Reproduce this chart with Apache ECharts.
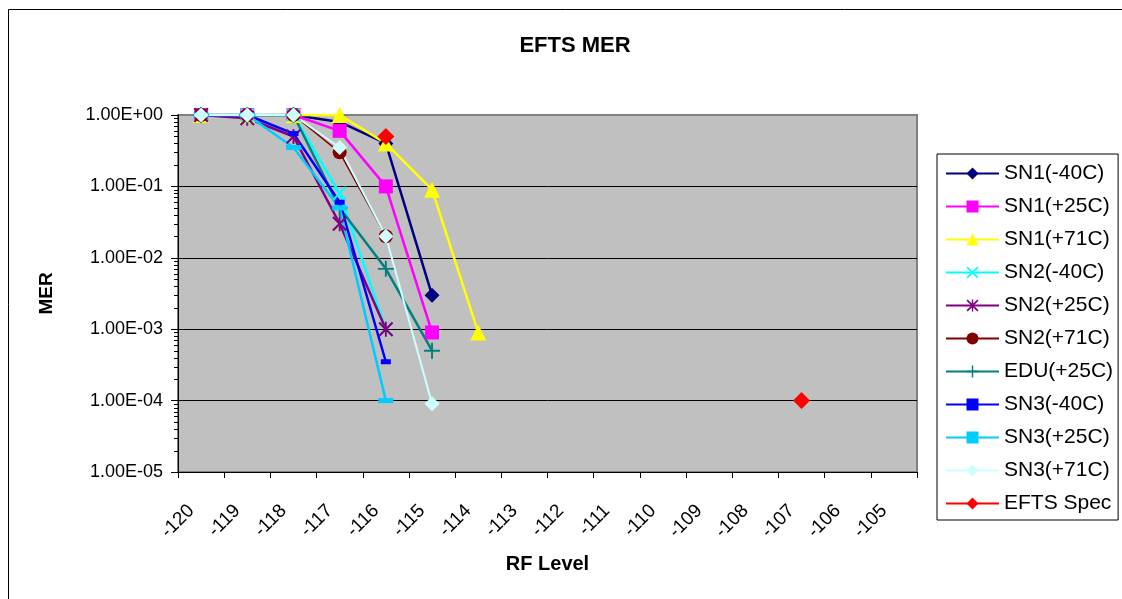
<!DOCTYPE html>
<html>
<head>
<meta charset="utf-8">
<title>EFTS MER</title>
<script src="https://cdn.jsdelivr.net/npm/echarts@6/dist/echarts.min.js"></script>
<style>
  html, body { margin: 0; padding: 0; background: #fff; }
  #chart-container { width: 1122px; height: 599px; }
</style>
</head>
<body>
<div id="chart-container"></div>
<script>
// RF level categories (x axis)
const categories = ['-120', '-119', '-118', '-117', '-116', '-115', '-114', '-113',
  '-112', '-111', '-110', '-109', '-108', '-107', '-106', '-105'];

// MER values, one array per unit / temperature
const sn1m40 = [1, 1, 1, 0.8, 0.4, 0.003];
const sn1p25 = [1, 1, 1, 0.6, 0.1, 0.0009];
const sn1p71 = [1, 1, 1, 1, 0.4, 0.09, 0.0009];
const sn2m40 = [1, 1, 1, 0.08, 0.001];
const sn2p25 = [1, 0.9, 0.5, 0.03, 0.001];
const sn2p71 = [1, 1, 1, 0.3, 0.02];
const edu25 = [1, 1, 1, 0.05, 0.007, 0.0005];
const sn3m40 = [1, 1, 0.55, 0.06, 0.00035];
const sn3p25 = [1, 1, 0.35, 0.05, 0.0001];
const sn3p71 = [1, 1, 1, 0.35, 0.02, 0.00009];
const eftsSpec = [null, null, null, null, 0.5, null, null, null, null, null, null, null, null, 0.0001];

// y tick labels, 1e-5 .. 1e0
const yTickLabels = ['1.00E-05', '1.00E-04', '1.00E-03', '1.00E-02', '1.00E-01', '1.00E+00'];

const FONT = 'Liberation Sans, Arial, sans-serif';
const gridLeft = 178, gridTop = 115, gridW = 739, gridH = 357;
const decades = 5;

// marker shapes
const xMark = 'path://M0,1L1,0L5,4L9,0L10,1L6,5L10,9L9,10L5,6L1,10L0,9L4,5Z';
const starMark = 'path://M0,1L1,0L5,4L9,0L10,1L6,5L10,9L9,10L5,6L1,10L0,9L4,5Z M4.4,0H5.6V10H4.4Z';
const plusMark = 'path://M4.4,0H5.6V4.4H10V5.6H5.6V10H4.4V5.6H0V4.4H4.4Z';

function mkSeries(name, data, color, symbol, size, width) {
  return {
    name: name,
    type: 'line',
    data: data,
    symbol: symbol,
    symbolSize: size,
    showAllSymbol: true,
    connectNulls: false,
    lineStyle: { color: color, width: width || 2.5 },
    itemStyle: { color: color },
    emphasis: { disabled: true }
  };
}

const seriesList = [
  mkSeries('SN1(-40C)', sn1m40, '#000080', 'diamond', 15),
  mkSeries('SN1(+25C)', sn1p25, '#FF00FF', 'rect', 14),
  mkSeries('SN1(+71C)', sn1p71, '#FFFF00', 'triangle', 16),
  mkSeries('SN2(-40C)', sn2m40, '#00FFFF', xMark, 14),
  mkSeries('SN2(+25C)', sn2p25, '#800080', starMark, 15),
  mkSeries('SN2(+71C)', sn2p71, '#800000', 'circle', 14, 1.5),
  mkSeries('EDU(+25C)', edu25, '#008080', plusMark, 16),
  mkSeries('SN3(-40C)', sn3m40, '#0000FF', 'rect', [10, 5]),
  mkSeries('SN3(+25C)', sn3p25, '#00CCFF', 'rect', [15, 5]),
  mkSeries('SN3(+71C)', sn3p71, '#CCFFFF', 'diamond', 15, 2),
  mkSeries('EFTS Spec', eftsSpec, '#FF0000', 'diamond', 17)
];

const chart = echarts.init(document.getElementById('chart-container'), null, { renderer: 'canvas' });

// log-spaced minor ticks (2..9 of each decade) on the y axis, plus the outer chart border
const extras = [];
for (let d = 0; d < decades; d++) {
  for (let k = 2; k <= 9; k++) {
    const y = Math.round(gridTop + gridH * (d + 1 - Math.log10(k)) / decades) + 0.5;
    extras.push({
      type: 'line',
      silent: true,
      z: 100,
      shape: { x1: gridLeft - 4, y1: y, x2: gridLeft, y2: y },
      style: { stroke: '#000', lineWidth: 1 }
    });
  }
}
extras.push({
  type: 'rect',
  silent: true,
  shape: { x: 8.5, y: 9.5, width: 1130, height: 620 },
  style: { fill: null, stroke: '#000', lineWidth: 1 }
});

const option = {
  animation: false,
  backgroundColor: '#fff',
  textStyle: { fontFamily: FONT },
  title: {
    text: 'EFTS MER',
    left: 570,
    textAlign: 'center',
    top: 30,
    textStyle: { fontFamily: FONT, fontSize: 22, fontWeight: 'bold', color: '#000' }
  },
  legend: {
    orient: 'vertical',
    left: 937,
    top: 154,
    padding: [9, 5, 6, 8],
    itemWidth: 53,
    itemHeight: 15,
    itemGap: 12,
    backgroundColor: '#fff',
    borderColor: '#000',
    borderWidth: 1,
    borderRadius: 0,
    textStyle: { fontFamily: FONT, fontSize: 21, color: '#000', lineHeight: 21 },
    data: seriesList.map(s => s.name)
  },
  grid: {
    left: gridLeft,
    top: gridTop,
    width: gridW,
    height: gridH,
    show: true,
    backgroundColor: '#C0C0C0',
    borderColor: '#808080',
    borderWidth: 2
  },
  xAxis: {
    type: 'category',
    data: categories,
    boundaryGap: true,
    name: 'RF Level',
    nameLocation: 'middle',
    nameGap: 82,
    nameTextStyle: { fontFamily: FONT, fontSize: 20, fontWeight: 'bold', color: '#000' },
    axisLine: { show: true, lineStyle: { color: '#000', width: 1 } },
    axisTick: { show: true, length: 6, interval: 0, lineStyle: { color: '#000' } },
    axisLabel: {
      rotate: 45, interval: 0, margin: 26, padding: [0, 14, 0, 0],
      fontFamily: FONT, fontSize: 19, color: '#000'
    },
    splitLine: { show: false }
  },
  yAxis: {
    type: 'log',
    logBase: 10,
    min: 0.00001,
    max: 1,
    name: 'MER',
    nameLocation: 'middle',
    nameGap: 122,
    nameTextStyle: { fontFamily: FONT, fontSize: 19, fontWeight: 'bold', color: '#000' },
    axisLine: { show: true, lineStyle: { color: '#000', width: 1 } },
    axisTick: { show: true, length: 7, lineStyle: { color: '#000' } },
    axisLabel: {
      margin: 15,
      fontFamily: FONT,
      fontSize: 18,
      color: '#000',
      formatter: function (v) {
        const i = Math.round(Math.log10(v)) + 5;
        return yTickLabels[i] || '';
      }
    },
    splitLine: { show: true, lineStyle: { color: ['#000', '#000', '#000', '#000', '#000', '#808080'], width: 1 } }
  },
  graphic: extras,
  series: seriesList
};

chart.setOption(option);
</script>
</body>
</html>
